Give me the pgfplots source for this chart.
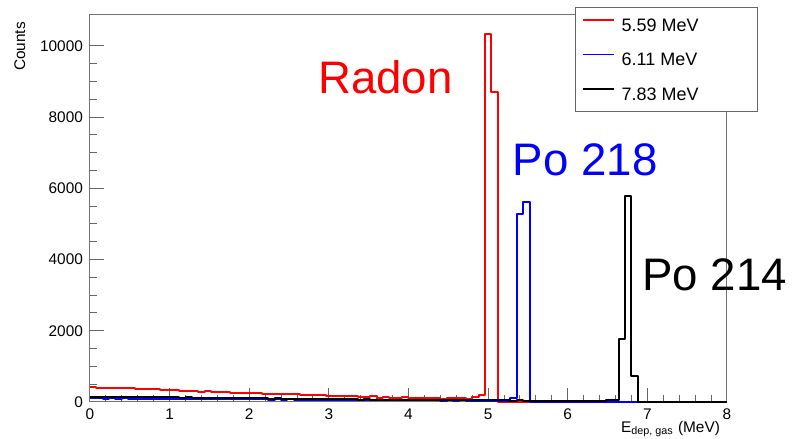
\documentclass[border=0pt]{standalone}
\usepackage{fontspec}
\setmainfont{Liberation Sans}
\usepackage{pgfplots}
\usepackage{pgfplotstable}
\pgfplotsset{compat=1.18}
\pgfplotstableread{
x r b k
0.00 410 104 152
0.08 405 100 150
0.16 398 98 146
0.24 395 102 150
0.32 388 96 144
0.40 396 100 148
0.48 384 94 140
0.56 378 98 144
0.64 370 92 138
0.72 362 96 142
0.80 352 90 134
0.88 340 94 138
0.96 326 88 130
1.04 334 86 134
1.12 312 92 126
1.20 302 84 130
1.28 306 88 122
1.36 294 82 126
1.44 300 86 118
1.52 284 80 122
1.60 276 84 114
1.68 280 78 118
1.76 264 76 110
1.84 256 82 114
1.92 250 74 106
2.00 246 78 110
2.08 240 72 102
2.16 236 76 106
2.24 230 70 98
2.32 238 74 102
2.40 224 68 94
2.48 216 72 98
2.56 220 66 90
2.64 206 70 94
2.72 200 64 86
2.80 196 62 90
2.88 186 68 82
2.96 172 60 86
3.04 182 64 78
3.12 166 58 82
3.20 156 62 74
3.28 170 56 78
3.36 150 60 70
3.44 132 54 74
3.52 160 58 66
3.60 120 52 70
3.68 136 56 62
3.76 116 50 66
3.84 112 54 58
3.92 130 48 62
4.00 106 52 56
4.08 120 46 60
4.16 110 50 54
4.24 100 44 58
4.32 116 48 52
4.40 96 42 56
4.48 106 46 50
4.56 100 40 54
4.64 110 44 48
4.72 96 40 60
4.80 140 42 70
4.88 210 38 58
4.96 10350 40 50
5.04 8700 36 48
5.12 0 30 44
5.20 0 34 46
5.28 0 100 42
5.36 0 5270 44
5.44 0 5620 40
5.52 0 0 42
5.60 0 0 40
5.68 0 0 42
5.76 0 0 38
5.84 0 0 40
5.92 0 0 38
6.00 0 0 40
6.08 0 0 36
6.16 0 0 38
6.24 0 0 36
6.32 0 0 38
6.40 0 0 40
6.48 0 0 60
6.56 0 0 70
6.64 0 0 1780
6.72 0 0 5780
6.80 0 0 720
6.88 0 0 0
6.96 0 0 0
7.04 0 0 0
7.12 0 0 0
7.20 0 0 0
7.28 0 0 0
7.36 0 0 0
7.44 0 0 0
7.52 0 0 0
7.60 0 0 0
7.68 0 0 0
7.76 0 0 0
7.84 0 0 0
7.92 0 0 0
8.00 0 0 0
}\histdata

\begin{document}
\begin{tikzpicture}
\useasboundingbox (0,0) rectangle (397pt,219.5pt);
\begin{axis}[
  at={(45pt,18.5pt)}, anchor=south west,
  scale only axis, width=318.5pt, height=193.5pt,
  xmin=0, xmax=8, ymin=0, ymax=10871,
  xtick={0,1,...,8}, ytick={0,2000,...,10000},
  minor x tick num=4, minor y tick num=3,
  tick pos=left, tick align=inside,
  major tick length=7pt, minor tick length=3.5pt,
  axis line style={black!55, line width=0.5pt},
  tick style={black!60, line width=0.5pt},
  scaled y ticks=false,
  /pgf/number format/1000 sep={},
  /pgf/number format/assume math mode=true,
  ticklabel style={font=\fontsize{7.7}{9}\selectfont},
  xlabel={E\textsubscript{dep, gas} (MeV)},
  ylabel={Counts},
  label style={font=\fontsize{7.7}{9}\selectfont},
  xlabel style={at={(rel axis cs:1,-0.0793)}, anchor=base east},
  ylabel style={at={(rel axis cs:-0.102,1)}, anchor=base east},
  clip=false,
  legend cell align=left,
  legend style={at={(0.761,1.0207)}, anchor=north west, draw=black!60, fill=white,
    font=\fontsize{9}{11}\selectfont, inner xsep=3.5pt, inner ysep=5.4pt,
    row sep=10.65pt, column sep=3.5pt,
    nodes={inner sep=0pt, text height=6.6pt, text depth=0pt}},
  legend image code/.code={\draw[#1, line width=0.75pt] (0pt,2.3pt) -- (15.5pt,2.3pt);},
]
\addplot[const plot, red, line width=1pt, line join=round] table[x=x,y=r]{\histdata};
\addlegendentry{\makebox[64.5pt][l]{5.59 MeV}}
\addplot[const plot, blue, line width=1pt, line join=round] table[x=x,y=b]{\histdata};
\addlegendentry{\makebox[64.5pt][l]{6.11 MeV}}
\addplot[const plot, black, line width=1pt, line join=round] table[x=x,y=k]{\histdata};
\addlegendentry{\makebox[64.5pt][l]{7.83 MeV}}
\node[red, font=\fontsize{22.8}{27}\selectfont, anchor=base, inner sep=0pt] at (axis cs:3.71,8679) {Radon};
\node[blue, font=\fontsize{22.8}{27}\selectfont, anchor=base, inner sep=0pt] at (axis cs:6.22,6375) {Po 218};
\node[black, font=\fontsize{22.8}{27}\selectfont, anchor=base, inner sep=0pt] at (axis cs:7.845,3140) {Po 214};
\end{axis}
\end{tikzpicture}
\end{document}
